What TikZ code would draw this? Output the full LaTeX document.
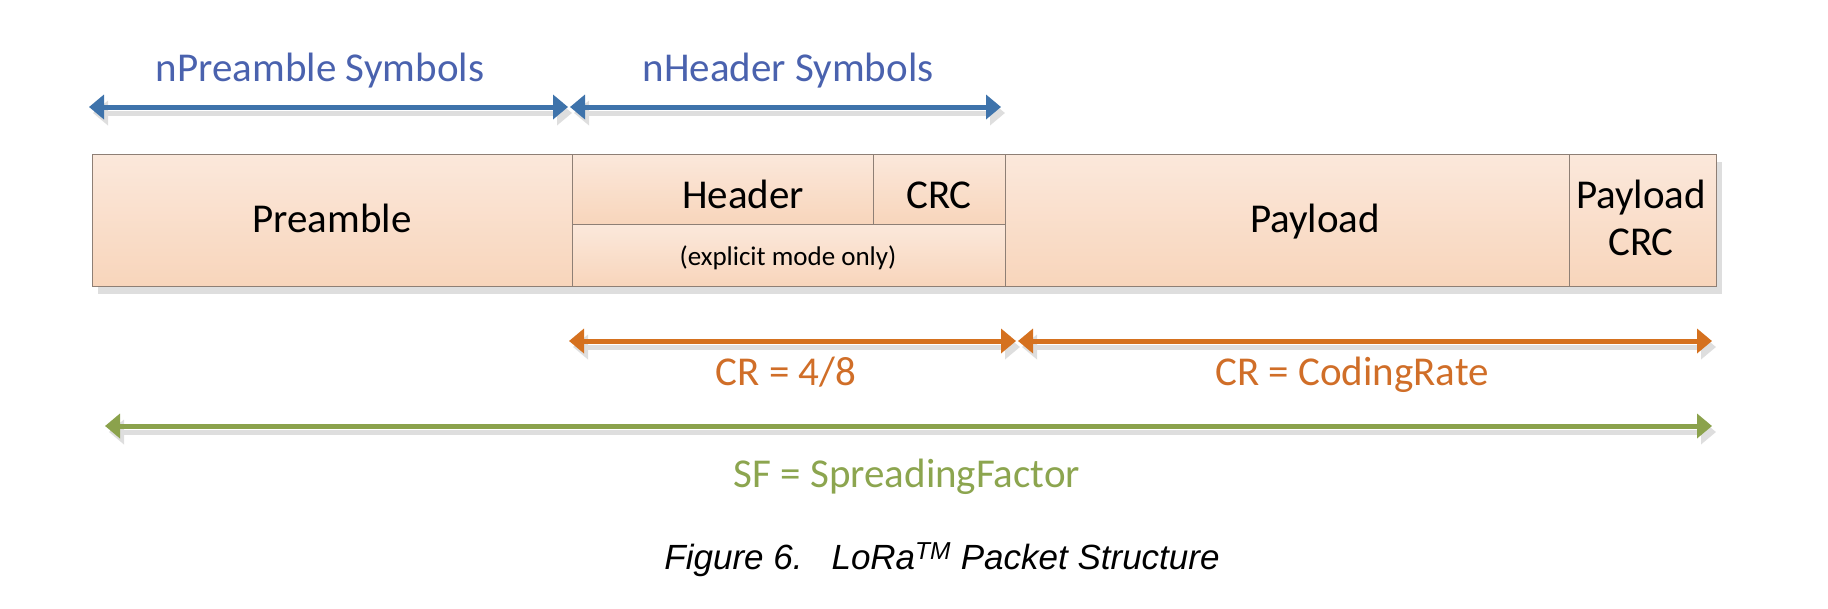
\documentclass[tikz,border=0pt]{standalone}
\usepackage{fontspec}
\setmainfont{Carlito}
\newfontfamily\capfont{Liberation Sans}
\usetikzlibrary{arrows.meta}
\definecolor{boxtop}{HTML}{FBE8DB}
\definecolor{boxbot}{HTML}{F8D5BB}
\definecolor{boxline}{HTML}{8E7F75}
\definecolor{shadowc}{HTML}{DEDEDE}
\definecolor{bluetxt}{HTML}{4A62AE}
\definecolor{bluearr}{HTML}{3E73AB}
\definecolor{orangetxt}{HTML}{D06E28}
\definecolor{orangearr}{HTML}{D5711F}
\definecolor{greentxt}{HTML}{8CA54F}
\definecolor{greenarr}{HTML}{8BA24C}
\begin{document}
\begin{tikzpicture}[x=1pt,y=-1pt,
  box/.style={draw=boxline, line width=1.4pt, top color=boxtop, bottom color=boxbot,
    inner sep=0pt, anchor=north west},
  lbl/.style={anchor=base, inner sep=0pt, font=\fontsize{41pt}{47pt}\selectfont},
  small/.style={anchor=base, inner sep=0pt, font=\fontsize{27pt}{32pt}\selectfont},
  tipdbl/.style={line width=5pt, {Triangle[width=24pt,length=15pt]}-{Triangle[width=24pt,length=15pt]}},
  shd/.style={draw=shadowc, transform canvas={shift={(4pt,-6pt)}}}
]
\useasboundingbox (0,0) rectangle (1828,608);

% box shadow
\fill[shadowc] (98,162) rectangle (1722,294);

% boxes
\node[box, minimum width=480pt, minimum height=132pt] (pre) at (92,154) {};
\node[box, minimum width=301pt, minimum height=70pt] (hdr) at (572,154) {};
\node[box, minimum width=132pt, minimum height=70pt] (hcrc) at (873,154) {};
\node[box, minimum width=433pt, minimum height=62pt] (expl) at (572,224) {};
\node[box, minimum width=564pt, minimum height=132pt] (pay) at (1005,154) {};
\node[box, minimum width=147pt, minimum height=132pt] (pcrc) at (1569,154) {};

% box texts
\node[lbl] (preT) at (332,232) {Preamble};
\node[lbl] (hdrT) at (743,208) {Header};
\node[lbl] (hcrcT) at (939,208) {CRC};
\node[small] (explT) at (788,265) {(explicit mode only)};
\node[lbl] (payT) at (1315,232) {Payload};
\node[lbl] (pcrcT1) at (1641,208) {Payload};
\node[lbl] (pcrcT2) at (1641,255) {CRC};

% arrow end points
\coordinate (b1) at (89,107);
\coordinate (b2) at (568,107);
\coordinate (b3) at (570,107);
\coordinate (b4) at (1001,107);
\coordinate (o1) at (569,341);
\coordinate (o2) at (1016,341);
\coordinate (o3) at (1018,341);
\coordinate (o4) at (1712,341);
\coordinate (g1) at (105,426);
\coordinate (g2) at (1712,426);

% shadows of arrows
\draw[tipdbl, shd] (b1) -- (b2);
\draw[tipdbl, shd] (b3) -- (b4);
\draw[tipdbl, shd] (o1) -- (o2);
\draw[tipdbl, shd] (o3) -- (o4);
\draw[tipdbl, shd] (g1) -- (g2);

% arrows
\draw[tipdbl, draw=bluearr] (b1) -- (b2);
\draw[tipdbl, draw=bluearr] (b3) -- (b4);
\draw[tipdbl, draw=orangearr] (o1) -- (o2);
\draw[tipdbl, draw=orangearr] (o3) -- (o4);
\draw[tipdbl, draw=greenarr] (g1) -- (g2);

% arrow labels
\node[lbl, text=bluetxt] (npre) at (320,81) {nPreamble Symbols};
\node[lbl, text=bluetxt] (nhdr) at (788,81) {nHeader Symbols};
\node[lbl, text=orangetxt] (cr1) at (786,385) {CR = 4/8};
\node[lbl, text=orangetxt] (cr2) at (1352,385) {CR = CodingRate};
\node[lbl, text=greentxt] (sf) at (907,487) {SF = SpreadingFactor};

% caption
\node[anchor=base, inner sep=0pt] (cap) at (942,569)
  {\capfont\itshape\fontsize{35pt}{40pt}\selectfont Figure 6.\hspace{29pt}LoRa\textsuperscript{TM} Packet Structure};
\end{tikzpicture}
\end{document}
